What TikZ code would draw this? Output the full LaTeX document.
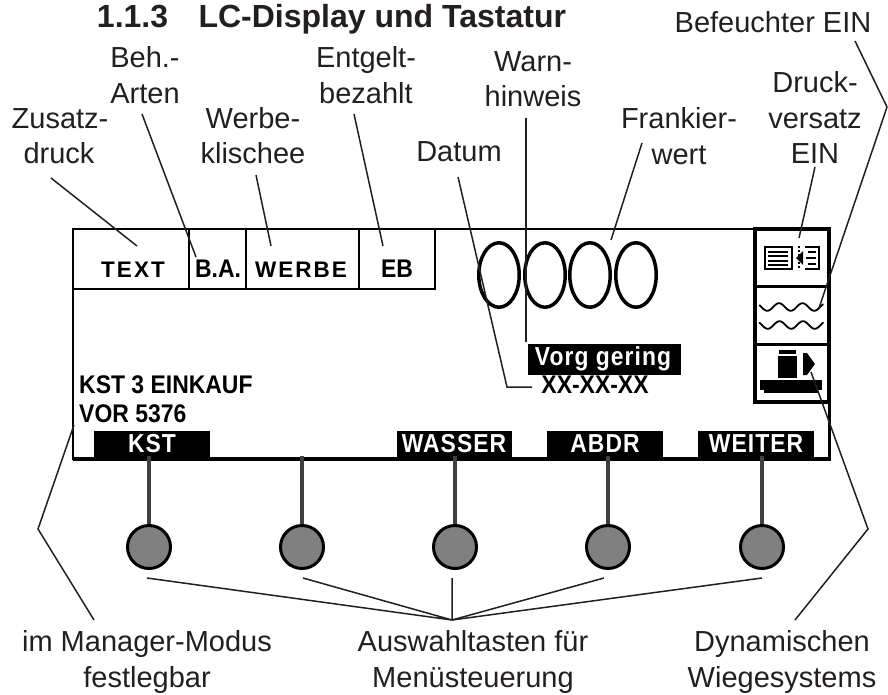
\documentclass[tikz,border=0pt]{standalone}
\usepackage{fontspec}
\setmainfont{Liberation Sans}
\newfontfamily\lcdspaced[LetterSpace=9]{Liberation Sans}
\newfontfamily\lcdnarrow[FakeStretch=0.9]{Liberation Sans}
\newfontfamily\lcdsoft[LetterSpace=4,FakeStretch=0.88]{Liberation Sans}
\definecolor{ink}{HTML}{231F20}
\definecolor{keygray}{HTML}{808080}
\definecolor{stem}{HTML}{404040}
\usetikzlibrary{shapes.geometric}
\tikzset{
  lab/.style={anchor=base,inner sep=0pt,text=ink,font=\fontsize{29}{32}\selectfont},
  lcd/.style={anchor=base,inner sep=0pt,text=black,font=\fontsize{25.5}{28}\selectfont\bfseries\lcdnarrow},
  lcdw/.style={anchor=base,inner sep=0pt,text=black,font=\fontsize{22.5}{26}\selectfont\bfseries\lcdspaced},
  soft/.style={anchor=base,inner sep=0pt,text=white,font=\fontsize{26}{28}\selectfont\bfseries\lcdsoft},
  softbox/.style={fill=black,draw=none},
  lead/.style={draw=ink,line width=1.5pt},
  cell/.style={draw=black,line width=1.6pt},
  digit/.style={draw=black,line width=3.5pt,ellipse,minimum width=40.5pt,minimum height=64.5pt,inner sep=0pt},
  keyc/.style={circle,draw=black,fill=keygray,line width=3pt,minimum size=43pt,inner sep=0pt},
  stemline/.style={draw=stem,line width=3.5pt},
}
\begin{document}
\begin{tikzpicture}[x=1pt,y=-1pt]
\useasboundingbox (0,0) rectangle (888,695);
% frame
\draw[cell] (73,229) rectangle (435,289);
\draw[cell] (189,229) -- (189,289) (246,229) -- (246,289) (359,229) -- (359,289);
\draw[cell] (435,229) -- (755,229);
\draw[line width=2pt] (73,229) -- (73,460);
% icons panel
\draw[line width=3.5pt] (755,229) rectangle (829,402);
\draw[line width=3pt] (755,286) -- (829,286) (755,344) -- (829,344);
\draw[line width=3pt] (829,402) -- (829,460);
% bottom softkeys
\draw[line width=4pt] (73,459) -- (830.5,459);
\node[softbox,minimum width=116pt,minimum height=28pt,inner sep=0pt] (bk) at (152,445) {};
\node[softbox,minimum width=115pt,minimum height=28pt,inner sep=0pt] (bw) at (454.5,445) {};
\node[softbox,minimum width=116pt,minimum height=28pt,inner sep=0pt] (ba) at (605,445) {};
\node[softbox,minimum width=116pt,minimum height=28pt,inner sep=0pt] (bn) at (756,445) {};
\node[soft] (tk) at (152,452) {KST};
\node[soft] (tw) at (454,452) {WASSER};
\node[soft] (ta) at (605,452) {ABDR};
\node[soft] (tn) at (756,452) {WEITER};
% cells text
\node[lcdw] (text) at (133,277) {TEXT};
\node[lcd] (ba2) at (218,277) {B.A.};
\node[lcdw] (werbe) at (301,277) {WERBE};
\node[lcd] (eb) at (397,277) {EB};
% digits
\node[digit] (d1) at (499,275) {};
\node[digit] (d2) at (545,275) {};
\node[digit] (d3) at (590,275) {};
\node[digit] (d4) at (636,275) {};
% status
\node[lcd,anchor=base west] (kst) at (79,393) {KST 3 EINKAUF};
\node[lcd,anchor=base west] (vor) at (79,422) {VOR 5376};
\node[lcd] (date) at (595,393) {XX-XX-XX};
\node[softbox,minimum width=153pt,minimum height=31pt,inner sep=0pt] (vb) at (604.5,359.5) {};
\node[soft] (vt) at (603,365) {Vorg gering};
% icon 1
\draw[line width=2pt] (764.5,247) rectangle (791.5,269);
\draw[line width=2pt] (768,251.5) -- (788,251.5) (768,256) -- (788,256) (768,260.5) -- (788,260.5) (768,265) -- (788,265);
\fill (796,258) -- (803,251) -- (803,265) -- cycle;
\draw[line width=1.6pt,dash pattern=on 2pt off 2pt] (799,246) -- (799,270);
\draw[line width=2pt] (805,247) -- (819,247) -- (819,269) -- (805,269);
\draw[line width=1.6pt] (808,252) -- (816,252) (806,258) -- (816,258) (808,264) -- (816,264);
% icon 2
\draw[line width=1.8pt,line cap=round] plot[domain=759.5:823,samples=70,smooth] (\x,{307-3.8*cos(360*(\x-779)/23.5)});
\draw[line width=1.8pt,line cap=round] plot[domain=759.5:823,samples=70,smooth] (\x,{325-3.8*cos(360*(\x-779.5)/23.5)});
% icon 3
\fill (779,350) rectangle (796,354);
\fill (778,355.5) rectangle (797,377.5);
\fill (803,353) -- (807,353) -- (815,364) -- (807,375) -- (803,375) -- cycle;
\fill (760,380) rectangle (822,390);
\fill (764,390) rectangle (818,393);
% keys
\node[keyc] (k1) at (149,547) {};
\node[keyc] (k2) at (302,547) {};
\node[keyc] (k3) at (455,547) {};
\node[keyc] (k4) at (608,547) {};
\node[keyc] (k5) at (762,547) {};
\coordinate (s1) at (149,456);
\coordinate (s2) at (302,456);
\coordinate (s3) at (455,456);
\coordinate (s4) at (608,456);
\coordinate (s5) at (762,456);
\draw[stemline] (s1) -- (k1.north);
\draw[stemline] (s2) -- (k2.north);
\draw[stemline] (s3) -- (k3.north);
\draw[stemline] (s4) -- (k4.north);
\draw[stemline] (s5) -- (k5.north);
% labels
\node[anchor=base,inner sep=0pt,text=ink,font=\fontsize{32}{34}\selectfont\bfseries] (title) at (331.5,28) {1.1.3\hspace{0.95em}LC-Display und Tastatur};
\node[lab] (l1a) at (60,129) {Zusatz-};
\node[lab] (l1) at (59,164) {druck};
\node[lab] (l2a) at (145,68) {Beh.-};
\node[lab] (l2) at (145,104) {Arten};
\node[lab] (l3a) at (253,129) {Werbe-};
\node[lab] (l3) at (253,164) {klischee};
\node[lab] (l4a) at (366,68) {Entgelt-};
\node[lab] (l4) at (366,104) {bezahlt};
\node[lab] (l5) at (459,162) {Datum};
\node[lab] (l6a) at (533,72) {Warn-};
\node[lab] (l6) at (533,107) {hinweis};
\node[lab] (l7a) at (679,129) {Frankier-};
\node[lab] (l7) at (679,165) {wert};
\node[lab] (l8) at (773,33) {Befeuchter EIN};
\node[lab] (l9a) at (815,93) {Druck-};
\node[lab] (l9b) at (815,129) {versatz};
\node[lab] (l9) at (815,164) {EIN};
\node[lab] (b1a) at (147,651) {im Manager-Modus};
\node[lab] (b1) at (147,687) {festlegbar};
\node[lab] (b2a) at (473,651) {Auswahltasten für};
\node[lab] (b2) at (473,687) {Menüsteuerung};
\node[lab] (b3a) at (782,651) {Dynamischen};
\node[lab] (b3) at (782,687) {Wiegesystems};
% leader anchors
\coordinate (a1s) at (51,178); \coordinate (a1e) at (137,246);
\coordinate (a2s) at (142,114); \coordinate (a2e) at (196,257);
\coordinate (a3s) at (256,175); \coordinate (a3e) at (271,246);
\coordinate (a4s) at (354,114); \coordinate (a4e) at (383,246);
\coordinate (a5s) at (458,177); \coordinate (a5m) at (507,387); \coordinate (a5e) at (532,387);
\coordinate (a6s) at (526,118); \coordinate (a6e) at (526,342);
\coordinate (a7s) at (642,143); \coordinate (a7e) at (611,240);
\coordinate (a8s) at (855,41); \coordinate (a8m) at (887,107); \coordinate (a8e) at (819,308);
\coordinate (a9s) at (815,167); \coordinate (a9e) at (799,238);
\coordinate (m1) at (74,425); \coordinate (m2) at (38,529); \coordinate (m3) at (94,620);
\coordinate (w1) at (811,372); \coordinate (w2) at (868,529); \coordinate (w3) at (795,620);
\coordinate (hub) at (452,620);
\coordinate (h1) at (147,578); \coordinate (h2) at (303,578); \coordinate (h3) at (452,578); \coordinate (h4) at (604,578); \coordinate (h5) at (762,578);
\draw[lead] (a1s) -- (a1e);
\draw[lead] (a2s) -- (a2e);
\draw[lead] (a3s) -- (a3e);
\draw[lead] (a4s) -- (a4e);
\draw[lead] (a5s) -- (a5m) -- (a5e);
\draw[lead] (a6s) -- (a6e);
\draw[lead] (a7s) -- (a7e);
\draw[lead] (a8s) -- (a8m) -- (a8e);
\draw[lead] (a9s) -- (a9e);
\draw[lead] (m1) -- (m2) -- (m3);
\draw[lead] (w1) -- (w2) -- (w3);
\draw[lead] (h1) -- (hub) -- (h2);
\draw[lead] (h3) -- (hub) -- (h4);
\draw[lead] (h5) -- (hub);
\end{tikzpicture}
\end{document}
